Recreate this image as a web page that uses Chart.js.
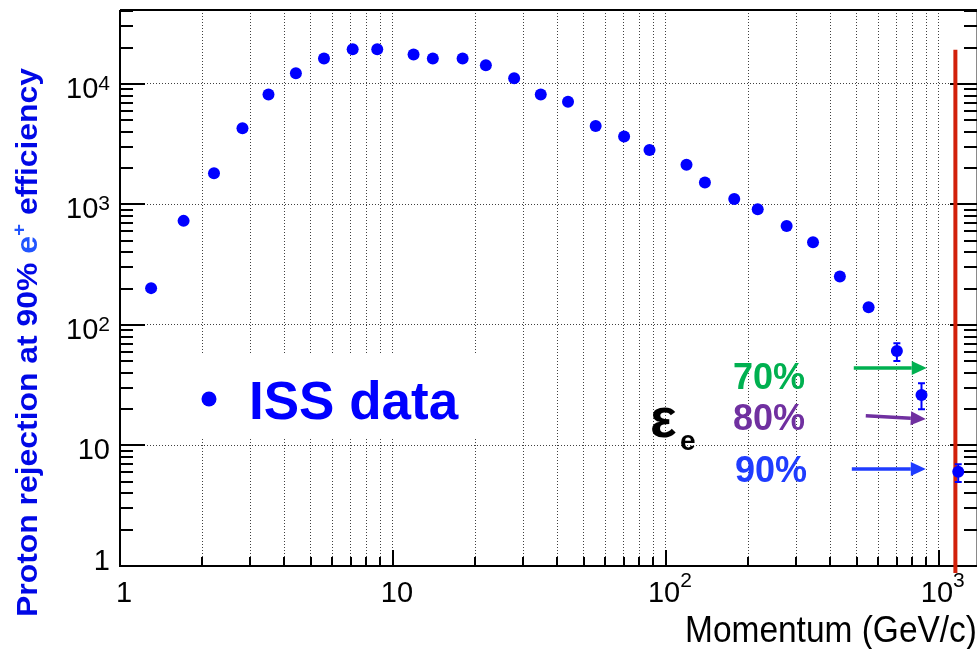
<!DOCTYPE html>
<html>
<head>
<meta charset="utf-8">
<script src="https://cdn.jsdelivr.net/npm/chart.js@4.4.1/dist/chart.umd.min.js"></script>
<style>
  html, body { margin: 0; padding: 0; background: #ffffff; }
  canvas { display: block; }
</style>
</head>
<body>
<canvas id="c" width="978" height="649"></canvas>
<script>
// Proton rejection at 90% positron efficiency versus momentum (ISS data)
const momentum = [1.30, 1.71, 2.21, 2.81, 3.50, 4.41, 5.59, 7.12, 8.76, 11.9,
                  14.0, 18.0, 21.9, 27.8, 34.8, 43.8, 55.3, 70.3, 87.1, 119,
                  139, 178, 217, 277, 346, 434, 553, 702, 864, 1178];
const rejection = [202, 730, 1815, 4290, 8150, 12270, 16200, 19400, 19400, 17500,
                   16200, 16200, 14300, 11150, 8150, 7090, 4480, 3655, 2833, 2128,
                   1517, 1111, 912, 663, 486, 252, 140, 60.9, 26.2, 6.06];
const errLow  = [null, null, null, null, null, null, null, null, null, null,
                 null, null, null, null, null, null, null, null, null, null,
                 null, null, null, null, null, null, null, 50.3, 20.0, 4.98];
const errHigh = [null, null, null, null, null, null, null, null, null, null,
                 null, null, null, null, null, null, null, null, null, null,
                 null, null, null, null, null, null, null, 70.5, 32.8, 7.0];

// axis ranges and tick labels
const xRange = [1, 1380];
const yRange = [1, 41000];
const xMajorTicks = [1, 10, 100, 1000];
const xTickLabels = ['1', '10', '10^2', '10^3'];
const yMajorTicks = [1, 10, 100, 1000, 10000];
const yTickLabels = ['1', '10', '10^2', '10^3', '10^4'];

// vertical cut line near 1.15 TeV
const cutMomentum = [1150, 1150];
const cutRejection = [19150, 0.875];

// electron efficiency markers (arrows)
const effLabels = ['70%', '80%', '90%'];
const arrowStartX = [488, 540, 480];
const arrowEndX = [903, 896, 896];
const arrowStartY = [44, 17.6, 6.38];
const arrowEndY = [44, 16.6, 6.38];

const legendLabel = 'ISS data';
const xTitle = 'Momentum (GeV/c)';
const yTitleParts = ['Proton rejection at 90% ', 'e', '+', ' efficiency'];

const FONT = "'Liberation Sans', Arial, Helvetica, sans-serif";
const effColors = ['#00b050', '#7030a0', '#1f3cff'];

function logValues(min, max) {
  const out = [];
  for (let e = Math.floor(Math.log10(min)); Math.pow(10, e) <= max; e++) {
    for (let m = 1; m < 10; m++) {
      const v = m * Math.pow(10, e);
      if (v >= min && v <= max) out.push(v);
    }
  }
  return out;
}
function isMajor(v) {
  const l = Math.log10(v);
  return Math.abs(l - Math.round(l)) < 1e-9;
}

function drawPow(ctx, label, x, y, align, baseSize, supSize, raise) {
  const parts = label.split('^');
  const base = parts[0], sup = parts[1];
  ctx.font = baseSize + 'px ' + FONT;
  const wb = ctx.measureText(base).width;
  let ws = 0;
  if (sup) { ctx.font = supSize + 'px ' + FONT; ws = ctx.measureText(sup).width; }
  const total = wb + ws;
  const left = align === 'center' ? x - total / 2 : (align === 'right' ? x - total : x);
  ctx.textAlign = 'left';
  ctx.textBaseline = 'alphabetic';
  ctx.font = baseSize + 'px ' + FONT;
  ctx.fillText(base, left, y);
  if (sup) {
    ctx.font = supSize + 'px ' + FONT;
    ctx.fillText(sup, left + wb, y - raise);
  }
}

function fitText(ctx, text, x, y, width, font) {
  ctx.font = font;
  const w = ctx.measureText(text).width;
  ctx.save();
  ctx.translate(x, y);
  ctx.scale(width / w, 1);
  ctx.textAlign = 'left';
  ctx.textBaseline = 'alphabetic';
  ctx.fillText(text, 0, 0);
  ctx.restore();
}

const framePlugin = {
  id: 'frame',
  beforeDatasetsDraw(chart) {
    const ctx = chart.ctx;
    const a = chart.chartArea;
    const xs = chart.scales.x, ys = chart.scales.y;
    ctx.save();
    // legend box hides the grid behind it
    ctx.fillStyle = '#ffffff';
    ctx.fillRect(140, 355, 360, 83);

    // frame
    ctx.strokeStyle = '#000000';
    ctx.lineWidth = 2;
    ctx.beginPath();
    ctx.moveTo(a.left, a.top); ctx.lineTo(a.right, a.top);
    ctx.moveTo(a.left, a.top); ctx.lineTo(a.left, a.bottom);
    ctx.moveTo(a.left - 1, a.bottom); ctx.lineTo(a.right, a.bottom);
    ctx.stroke();
    ctx.strokeStyle = '#8a8a8a';
    ctx.lineWidth = 1;
    ctx.beginPath();
    ctx.moveTo(a.right - 0.5, a.top); ctx.lineTo(a.right - 0.5, a.bottom);
    ctx.stroke();

    // inner tick marks
    ctx.strokeStyle = '#000000';
    ctx.lineWidth = 2;
    ctx.beginPath();
    logValues(xRange[0], xRange[1]).forEach(v => {
      const px = Math.round(xs.getPixelForValue(v));
      const len = isMajor(v) ? 16 : 9;
      ctx.moveTo(px, a.bottom); ctx.lineTo(px, a.bottom - len);
    });
    logValues(yRange[0], yRange[1]).forEach(v => {
      const py = Math.round(ys.getPixelForValue(v));
      if (py < a.top + 1) return;
      const major = isMajor(v);
      ctx.moveTo(a.left, py); ctx.lineTo(a.left + (major ? 25 : 13), py);
      ctx.moveTo(a.right, py); ctx.lineTo(a.right - (major ? 27 : 13), py);
    });
    ctx.stroke();
    ctx.restore();
  },
  afterDatasetsDraw(chart) {
    const ctx = chart.ctx;
    const a = chart.chartArea;
    const xs = chart.scales.x, ys = chart.scales.y;
    ctx.save();

    // error bars
    ctx.strokeStyle = '#0000ff';
    ctx.lineWidth = 2;
    momentum.forEach((m, i) => {
      if (errLow[i] == null) return;
      const px = xs.getPixelForValue(m);
      const lo = ys.getPixelForValue(errLow[i]);
      const hi = ys.getPixelForValue(errHigh[i]);
      ctx.beginPath();
      ctx.moveTo(px, lo); ctx.lineTo(px, hi);
      ctx.moveTo(px - 3.5, lo); ctx.lineTo(px + 3.5, lo);
      ctx.moveTo(px - 3.5, hi); ctx.lineTo(px + 3.5, hi);
      ctx.stroke();
    });

    // axis tick labels
    ctx.fillStyle = '#000000';
    xMajorTicks.forEach((v, i) => {
      const px = xs.getPixelForValue(v);
      drawPow(ctx, xTickLabels[i], px + 4, a.bottom + 36, 'center', 29, 21, 15);
    });
    yMajorTicks.forEach((v, i) => {
      const py = ys.getPixelForValue(v);
      drawPow(ctx, yTickLabels[i], a.left - 10, Math.min(py + 14, a.bottom + 4), 'right', 29, 21, 8);
    });

    // axis titles
    fitText(ctx, xTitle, 685, 642, 292, '36px ' + FONT);

    ctx.save();
    ctx.translate(37, 617);
    ctx.rotate(-Math.PI / 2);
    const bold = 'bold 29px ' + FONT, boldSup = 'bold 19px ' + FONT;
    const widths = yTitleParts.map((t, i) => { ctx.font = i === 2 ? boldSup : bold; return ctx.measureText(t).width; });
    const total = widths.reduce((s, w) => s + w, 0);
    ctx.scale(549 / total, 1);
    let cx = 0;
    yTitleParts.forEach((t, i) => {
      ctx.font = i === 2 ? boldSup : bold;
      ctx.fillStyle = (i === 1 || i === 2) ? '#2255ff' : '#0008e6';
      ctx.textAlign = 'left';
      ctx.fillText(t, cx, i === 2 ? -12 : 0);
      cx += widths[i];
    });
    ctx.restore();

    // legend
    ctx.fillStyle = '#0000ff';
    ctx.beginPath();
    ctx.arc(209, 399, 7.5, 0, Math.PI * 2);
    ctx.fill();
    ctx.font = 'bold 53px ' + FONT;
    ctx.textAlign = 'left';
    ctx.fillText(legendLabel, 249, 419);

    // efficiency annotations
    ctx.fillStyle = '#000000';
    ctx.font = 'bold 56px ' + FONT;
    ctx.fillText('\u03b5', 650, 437);
    ctx.font = 'bold 28px ' + FONT;
    ctx.fillText('e', 680, 450);
    const textBase = [389, 430, 482];
    const textLeft = [733, 733, 735];
    effLabels.forEach((t, i) => {
      ctx.fillStyle = effColors[i];
      ctx.font = 'bold 36px ' + FONT;
      ctx.fillText(t, textLeft[i], textBase[i]);
    });

    // arrows
    effLabels.forEach((t, i) => {
      const x0 = xs.getPixelForValue(arrowStartX[i]);
      const y0 = ys.getPixelForValue(arrowStartY[i]);
      const x1 = xs.getPixelForValue(arrowEndX[i]);
      const y1 = ys.getPixelForValue(arrowEndY[i]);
      const ang = Math.atan2(y1 - y0, x1 - x0);
      const head = 15, half = 7;
      const bx = x1 - head * Math.cos(ang), by = y1 - head * Math.sin(ang);
      ctx.strokeStyle = effColors[i];
      ctx.fillStyle = effColors[i];
      ctx.lineWidth = 3.5;
      ctx.beginPath();
      ctx.moveTo(x0, y0); ctx.lineTo(bx, by);
      ctx.stroke();
      ctx.beginPath();
      ctx.moveTo(x1, y1);
      ctx.lineTo(bx - half * Math.sin(ang), by + half * Math.cos(ang));
      ctx.lineTo(bx + half * Math.sin(ang), by - half * Math.cos(ang));
      ctx.closePath();
      ctx.fill();
    });
    ctx.restore();
  }
};

const points = momentum.map((m, i) => ({ x: m, y: rejection[i] }));
const cutLine = cutMomentum.map((m, i) => ({ x: m, y: cutRejection[i] }));

const xGrid = logValues(xRange[0], xRange[1]);
const yGrid = logValues(yRange[0], yRange[1]);

new Chart(document.getElementById('c'), {
  type: 'scatter',
  data: {
    datasets: [
      {
        type: 'line',
        data: cutLine,
        borderColor: '#d2200a',
        borderWidth: 4,
        pointRadius: 0,
        borderCapStyle: 'butt',
        clip: false,
        order: 2
      },
      {
        data: points,
        backgroundColor: '#0000ff',
        borderWidth: 0,
        pointRadius: 6,
        order: 1
      }
    ]
  },
  options: {
    responsive: false,
    animation: false,
    devicePixelRatio: 1,
    layout: { autoPadding: false, padding: { left: 120, top: 10, right: 1, bottom: 83 } },
    plugins: { legend: { display: false }, tooltip: { enabled: false } },
    scales: {
      x: {
        type: 'logarithmic',
        min: xRange[0],
        max: xRange[1],
        afterBuildTicks: s => { s.ticks = xGrid.map(v => ({ value: v })); },
        afterFit: s => { s.height = 0; },
        ticks: { display: false },
        grid: { color: 'rgba(0,0,0,0.75)', lineWidth: 1, drawTicks: false },
        border: { display: false, dash: [1, 2] }
      },
      y: {
        type: 'logarithmic',
        min: yRange[0],
        max: yRange[1],
        afterBuildTicks: s => { s.ticks = yGrid.map(v => ({ value: v })); },
        afterFit: s => { s.width = 0; },
        ticks: { display: false },
        grid: {
          color: c => (c.tick && isMajor(c.tick.value)) ? 'rgba(0,0,0,0.75)' : 'rgba(0,0,0,0)',
          lineWidth: 1,
          drawTicks: false
        },
        border: { display: false, dash: [1, 2] }
      }
    }
  },
  plugins: [framePlugin]
});
</script>
</body>
</html>
